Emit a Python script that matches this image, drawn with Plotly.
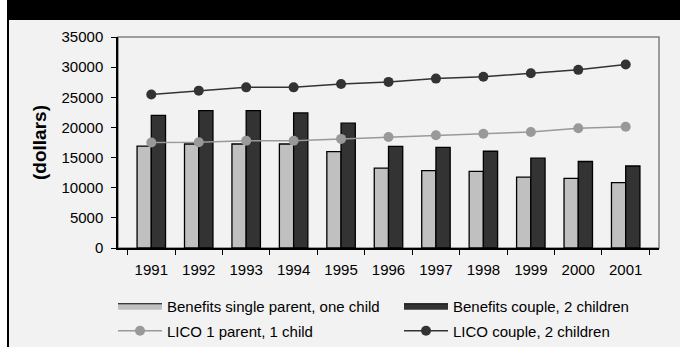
import plotly.graph_objects as go

years = ["1991", "1992", "1993", "1994", "1995", "1996", "1997", "1998", "1999", "2000", "2001"]
benefits_single = [16900, 17250, 17250, 17250, 16000, 13250, 12850, 12700, 11750, 11550, 10850]
benefits_couple = [22000, 22800, 22800, 22400, 20700, 16850, 16700, 16050, 14900, 14350, 13600]
lico_single = [17500, 17550, 17800, 17800, 18100, 18400, 18700, 18950, 19250, 19850, 20100]
lico_couple = [25450, 26100, 26650, 26650, 27200, 27550, 28100, 28400, 29000, 29550, 30450]
y_ticks = [0, 5000, 10000, 15000, 20000, 25000, 30000, 35000]
y_tick_labels = ["0", "5000", "10000", "15000", "20000", "25000", "30000", "35000"]

LIGHT, DARK, MID = "#c0c0c0", "#333333", "#999999"

W, H = 680, 347
ML, MR, MT, MB = 118, 21, 37, 99
PW, PH = W - ML - MR, H - MT - MB


def px_x(px):
    return (px - ML) / PW


def px_y(py):
    return (H - MB - py) / PH


fig = go.Figure()
fig.add_bar(x=years, y=benefits_single, name="Benefits single parent, one child",
            legendgroup="bs", showlegend=False,
            marker=dict(color=LIGHT, line=dict(color="black", width=1.3)))
fig.add_bar(x=years, y=benefits_couple, name="Benefits couple, 2 children",
            legendgroup="bc", showlegend=False,
            marker=dict(color=DARK, line=dict(color="black", width=1.3)))
# legend swatches for the bar series (wide flat rectangles)
fig.add_scatter(x=[None], y=[None], name="Benefits single parent, one child", legendgroup="bs",
                mode="lines", fill="toself", fillcolor=LIGHT, line=dict(color="black", width=1),
                legend="legend", hoverinfo="skip")
fig.add_scatter(x=[None], y=[None], name="Benefits couple, 2 children", legendgroup="bc",
                mode="lines", fill="toself", fillcolor=DARK, line=dict(color="black", width=1),
                legend="legend2", hoverinfo="skip")
fig.add_scatter(x=years, y=lico_single, name="LICO 1 parent, 1 child", mode="lines+markers",
                line=dict(color=MID, width=1.5), legend="legend3",
                marker=dict(color=MID, size=10, symbol="circle"))
fig.add_scatter(x=years, y=lico_couple, name="LICO couple, 2 children", mode="lines+markers",
                line=dict(color=DARK, width=1.5), legend="legend4",
                marker=dict(color=DARK, size=10, symbol="circle"))

shapes = [
    # black title band
    dict(type="rect", xref="paper", yref="paper", x0=px_x(7), x1=px_x(682), y0=px_y(19), y1=px_y(-2),
         fillcolor="black", line=dict(width=0), layer="below"),
    # light panel with dark border
    dict(type="rect", xref="paper", yref="paper", x0=px_x(8), x1=px_x(690), y0=px_y(360), y1=px_y(19),
         fillcolor="#f2f2f2", line=dict(color="black", width=2), layer="below"),
    # plot frame
    dict(type="rect", xref="paper", yref="paper", x0=0, x1=1, y0=0, y1=1,
         fillcolor="rgba(0,0,0,0)", line=dict(color="#808080", width=1.5), layer="below"),
]


def legend_at(px, py):
    return dict(orientation="h", xref="container", yref="container",
                x=px / W, y=1 - py / H, xanchor="left", yanchor="middle",
                itemwidth=44, bgcolor="rgba(0,0,0,0)", font=dict(size=15))


fig.update_layout(
    width=W, height=H,
    margin=dict(l=ML, r=MR, t=MT, b=MB, autoexpand=False),
    paper_bgcolor="white",
    plot_bgcolor="rgba(0,0,0,0)",
    font=dict(family="Liberation Sans, Arial", size=15, color="black"),
    barmode="group", bargap=0.4, bargroupgap=0,
    shapes=shapes,
    showlegend=True,
    legend=legend_at(113, 306),
    legend2=legend_at(399, 306),
    legend3=legend_at(113, 331),
    legend4=legend_at(399, 331),
    xaxis2=dict(overlaying="x", anchor="y", side="bottom", range=[-0.5, 10.5],
                tick0=-0.5, dtick=1, ticks="inside", ticklen=4, tickcolor="black",
                showticklabels=False, showgrid=False, zeroline=False, showline=False),
    xaxis=dict(showline=True, linecolor="black", linewidth=1.5, ticks="outside",
               ticklen=5, tickcolor="black", tickson="boundaries", showgrid=False,
               tickfont=dict(size=15), ticklabelstandoff=7),
)
fig.update_yaxes(range=[0, 35000], tickvals=y_ticks, ticktext=y_tick_labels,
                 showline=True, linecolor="black", linewidth=1.5,
                 ticks="outside", ticklen=5, tickcolor="black", showgrid=False, zeroline=False,
                 tickfont=dict(size=15), ticklabelstandoff=5,
                 title=dict(text="<b>(dollars)</b>", font=dict(size=19), standoff=10))

fig.write_html("out.html")
